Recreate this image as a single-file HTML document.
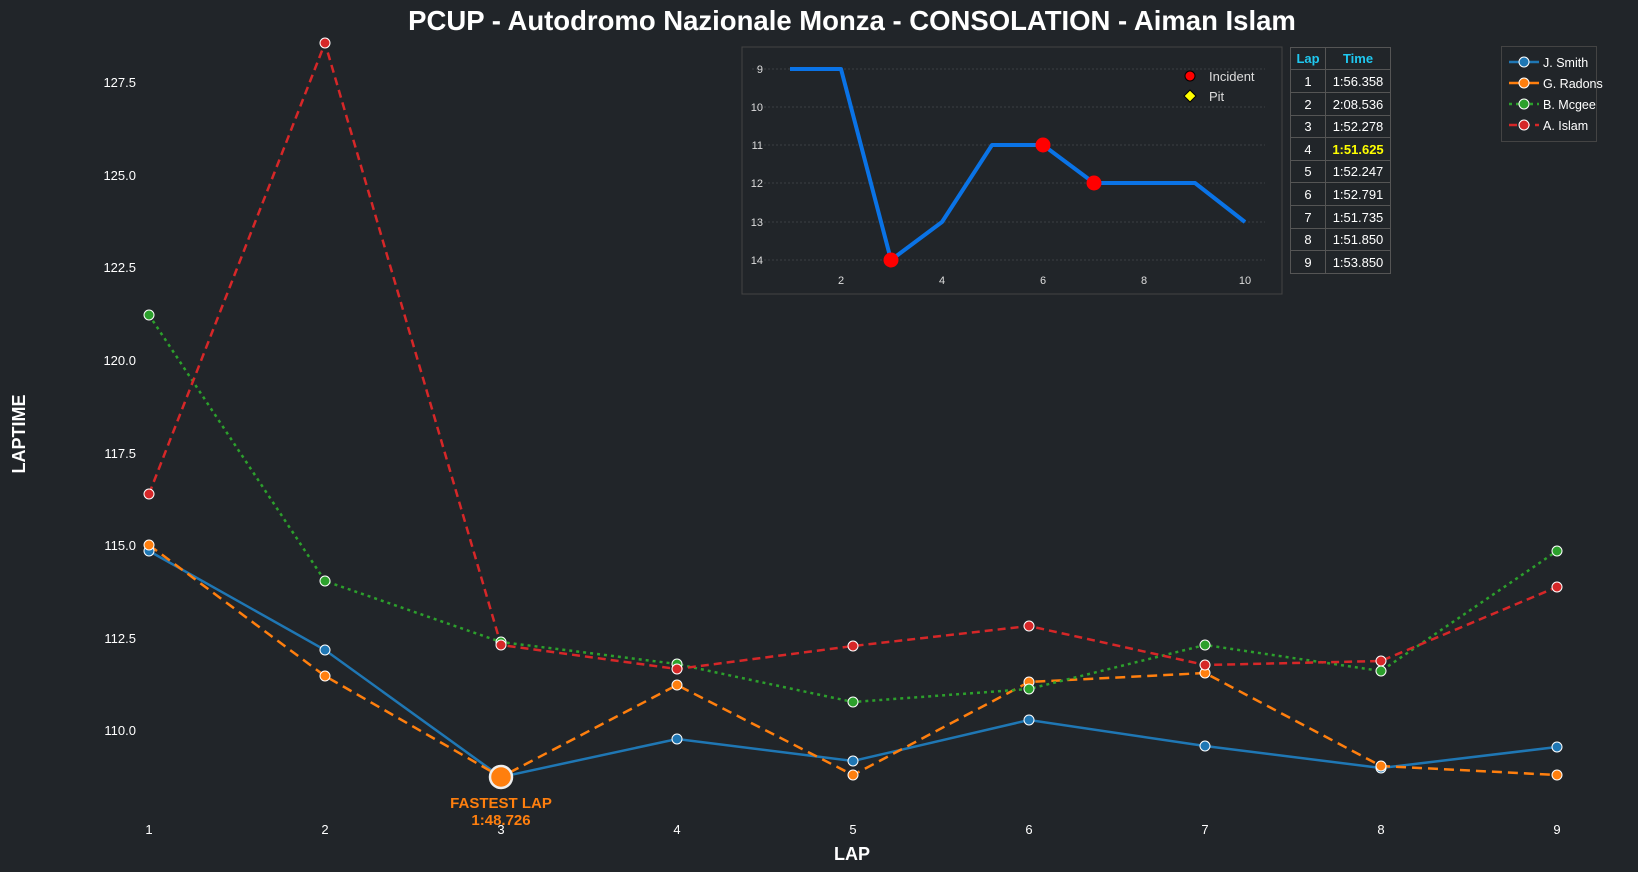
<!DOCTYPE html>
<html><head><meta charset="utf-8"><style>
html,body{margin:0;padding:0;background:#212529;}
svg{display:block;font-family:"Liberation Sans",Arial,sans-serif;}
</style></head><body>
<svg width="1638" height="872" viewBox="0 0 1638 872" xmlns="http://www.w3.org/2000/svg">
<rect width="1638" height="872" fill="#212529"/>
<text x="852" y="30" text-anchor="middle" font-size="27.5" font-weight="bold" fill="#fff">PCUP - Autodromo Nazionale Monza - CONSOLATION - Aiman Islam</text>
<!-- y ticks -->
<g font-size="13" fill="#fff" text-anchor="end">
<text x="136" y="87">127.5</text>
<text x="136" y="180">125.0</text>
<text x="136" y="272">122.5</text>
<text x="136" y="365">120.0</text>
<text x="136" y="458">117.5</text>
<text x="136" y="550">115.0</text>
<text x="136" y="643">112.5</text>
<text x="136" y="735">110.0</text>
</g>
<g font-size="13" fill="#fff" text-anchor="middle">
<text x="149" y="834">1</text><text x="325" y="834">2</text><text x="501" y="834">3</text>
<text x="677" y="834">4</text><text x="853" y="834">5</text><text x="1029" y="834">6</text>
<text x="1205" y="834">7</text><text x="1381" y="834">8</text><text x="1557" y="834">9</text>
</g>
<text x="852" y="860" text-anchor="middle" font-size="18" font-weight="bold" fill="#fff">LAP</text>
<text transform="translate(25,434) rotate(-90)" text-anchor="middle" font-size="18" font-weight="bold" fill="#fff">LAPTIME</text>

<g fill="none" stroke-width="2.5">
<polyline stroke="#1f77b4" points="149,551 325,650 501,777 677,739 853,761 1029,720 1205,746 1381,768 1557,747"/>
<polyline stroke="#ff7f0e" stroke-dasharray="10,6" points="149,545 325,676 501,777 677,685 853,775 1029,682 1205,673 1381,766 1557,775"/>
<polyline stroke="#2ca02c" stroke-dasharray="3,4" points="149,315 325,581 501,642 677,664 853,702 1029,689 1205,645 1381,671 1557,551"/>
<polyline stroke="#d62728" stroke-dasharray="8,5" points="149,494 325,43 501,645 677,669 853,646 1029,626 1205,665 1381,661 1557,587"/>
</g>
<g stroke="#fff" stroke-width="1">
<g fill="#1f77b4"><circle cx="149" cy="551" r="5"/><circle cx="325" cy="650" r="5"/><circle cx="501" cy="777" r="5"/><circle cx="677" cy="739" r="5"/><circle cx="853" cy="761" r="5"/><circle cx="1029" cy="720" r="5"/><circle cx="1205" cy="746" r="5"/><circle cx="1381" cy="768" r="5"/><circle cx="1557" cy="747" r="5"/></g>
<g fill="#ff7f0e"><circle cx="149" cy="545" r="5"/><circle cx="325" cy="676" r="5"/><circle cx="677" cy="685" r="5"/><circle cx="853" cy="775" r="5"/><circle cx="1029" cy="682" r="5"/><circle cx="1205" cy="673" r="5"/><circle cx="1381" cy="766" r="5"/><circle cx="1557" cy="775" r="5"/></g>
<g fill="#2ca02c"><circle cx="149" cy="315" r="5"/><circle cx="325" cy="581" r="5"/><circle cx="501" cy="642" r="5"/><circle cx="677" cy="664" r="5"/><circle cx="853" cy="702" r="5"/><circle cx="1029" cy="689" r="5"/><circle cx="1205" cy="645" r="5"/><circle cx="1381" cy="671" r="5"/><circle cx="1557" cy="551" r="5"/></g>
<g fill="#d62728"><circle cx="149" cy="494" r="5"/><circle cx="325" cy="43" r="5"/><circle cx="501" cy="645" r="5"/><circle cx="677" cy="669" r="5"/><circle cx="853" cy="646" r="5"/><circle cx="1029" cy="626" r="5"/><circle cx="1205" cy="665" r="5"/><circle cx="1381" cy="661" r="5"/><circle cx="1557" cy="587" r="5"/></g>
</g>
<circle cx="501" cy="777" r="11" fill="#ff7f0e" stroke="#eee" stroke-width="2.5"/>
<text x="501" y="808" text-anchor="middle" font-size="15" font-weight="bold" fill="#ff7f0e">FASTEST LAP</text>
<text x="501" y="825" text-anchor="middle" font-size="15" font-weight="bold" fill="#ff7f0e">1:48.726</text>

<!-- inset -->
<rect x="742" y="47" width="540" height="247" fill="#212529" stroke="#444" stroke-width="1"/>
<g stroke="#3a3e44" stroke-dasharray="2,2" stroke-width="1">
<line x1="752" y1="69" x2="1265" y2="69"/><line x1="752" y1="107" x2="1265" y2="107"/>
<line x1="752" y1="145" x2="1265" y2="145"/><line x1="752" y1="183" x2="1265" y2="183"/>
<line x1="752" y1="222" x2="1265" y2="222"/><line x1="752" y1="260" x2="1265" y2="260"/>
</g>
<g font-size="11" fill="#ddd" text-anchor="end">
<text x="763" y="73">9</text><text x="763" y="111">10</text><text x="763" y="149">11</text>
<text x="763" y="187">12</text><text x="763" y="226">13</text><text x="763" y="264">14</text>
</g>
<g font-size="11" fill="#ddd" text-anchor="middle">
<text x="841" y="284">2</text><text x="942" y="284">4</text><text x="1043" y="284">6</text><text x="1144" y="284">8</text><text x="1245" y="284">10</text>
</g>
<polyline fill="none" stroke="#0a73e6" stroke-width="4" stroke-linejoin="round" points="790,69 841,69 891,260 942,222 992,145 1043,145 1094,183 1144,183 1195,183 1245,222"/>
<g fill="#ff0000"><circle cx="891" cy="260" r="7.5"/><circle cx="1043" cy="145" r="7.5"/><circle cx="1094" cy="183" r="7.5"/></g>
<circle cx="1190" cy="76" r="5" fill="#ff0000" stroke="#000" stroke-width="1"/>
<polygon points="1190,90 1196,96 1190,102 1184,96" fill="#ffff00" stroke="#000" stroke-width="1"/>
<text x="1209" y="81" font-size="13" fill="#ddd">Incident</text>
<text x="1209" y="101" font-size="13" fill="#ddd">Pit</text>

<!-- table -->
<g stroke="#555" stroke-width="1" fill="none">
<rect x="1290.5" y="47.5" width="100" height="226"/>
<line x1="1325.5" y1="47" x2="1325.5" y2="273"/>
<line x1="1290" y1="69.5" x2="1391" y2="69.5"/><line x1="1290" y1="92.5" x2="1391" y2="92.5"/>
<line x1="1290" y1="115.5" x2="1391" y2="115.5"/><line x1="1290" y1="137.5" x2="1391" y2="137.5"/>
<line x1="1290" y1="160.5" x2="1391" y2="160.5"/><line x1="1290" y1="182.5" x2="1391" y2="182.5"/>
<line x1="1290" y1="205.5" x2="1391" y2="205.5"/><line x1="1290" y1="228.5" x2="1391" y2="228.5"/>
<line x1="1290" y1="250.5" x2="1391" y2="250.5"/>
</g>
<g font-size="13" text-anchor="middle" fill="#fff">
<text x="1308" y="63" fill="#1fc8f0" font-weight="bold">Lap</text><text x="1358" y="63" fill="#1fc8f0" font-weight="bold">Time</text>
<text x="1308" y="86">1</text><text x="1358" y="86">1:56.358</text>
<text x="1308" y="109">2</text><text x="1358" y="109">2:08.536</text>
<text x="1308" y="131">3</text><text x="1358" y="131">1:52.278</text>
<text x="1308" y="154">4</text><text x="1358" y="154" fill="#ffff00" font-weight="bold">1:51.625</text>
<text x="1308" y="176">5</text><text x="1358" y="176">1:52.247</text>
<text x="1308" y="199">6</text><text x="1358" y="199">1:52.791</text>
<text x="1308" y="222">7</text><text x="1358" y="222">1:51.735</text>
<text x="1308" y="244">8</text><text x="1358" y="244">1:51.850</text>
<text x="1308" y="267">9</text><text x="1358" y="267">1:53.850</text>
</g>

<!-- legend -->
<rect x="1501.5" y="46.5" width="95" height="95" fill="#212529" stroke="#444"/>
<g stroke-width="2.5">
<line x1="1509" y1="62" x2="1539" y2="62" stroke="#1f77b4"/>
<line x1="1509" y1="83" x2="1539" y2="83" stroke="#ff7f0e"/>
<line x1="1509" y1="104" x2="1539" y2="104" stroke="#2ca02c" stroke-dasharray="3,4"/>
<line x1="1509" y1="125" x2="1539" y2="125" stroke="#d62728" stroke-dasharray="8,5"/>
</g>
<g stroke="#fff">
<circle cx="1524" cy="62" r="5" fill="#1f77b4"/><circle cx="1524" cy="83" r="5" fill="#ff7f0e"/>
<circle cx="1524" cy="104" r="5" fill="#2ca02c"/><circle cx="1524" cy="125" r="5" fill="#d62728"/>
</g>
<g font-size="12.5" fill="#fff">
<text x="1543" y="67">J. Smith</text><text x="1543" y="88">G. Radons</text>
<text x="1543" y="109">B. Mcgee</text><text x="1543" y="130">A. Islam</text>
</g>
</svg>
</body></html>
